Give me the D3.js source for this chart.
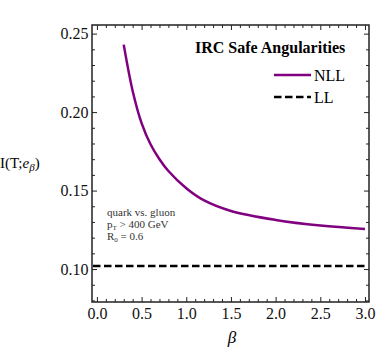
<!DOCTYPE html>
<html>
<head>
<meta charset="utf-8">
<script src="https://cdn.jsdelivr.net/npm/d3@7"></script>
<style>
  body { margin: 0; background: #fff; }
  svg { display: block; font-family: "Liberation Serif", "Times New Roman", serif; }
</style>
</head>
<body>
<svg></svg>
<script>
// data
var betas = [0.3, 0.4, 0.5, 0.6, 0.7, 0.8, 1.0, 1.2, 1.5, 2.0, 2.5, 3.0];
var nll = [0.243, 0.2135, 0.193, 0.1795, 0.170, 0.1625, 0.1515, 0.1437, 0.137, 0.1313, 0.1277, 0.1255];
var llValue = 0.102;
var xTicks = [0.0, 0.5, 1.0, 1.5, 2.0, 2.5, 3.0];
var yTicks = [0.10, 0.15, 0.20, 0.25];
var notes = ["quark vs. gluon", "pT > 400 GeV", "R0 = 0.6"];

var width = 382, height = 350;
var frame = {left: 92, right: 369, top: 25, bottom: 302};

var svg = d3.select("svg")
    .attr("width", width)
    .attr("height", height);

var x = d3.scaleLinear().domain([-0.055, 3.045]).range([frame.left, frame.right]);
var y = d3.scaleLinear().domain([0.079, 0.2555]).range([frame.bottom, frame.top]);

var xMinor = d3.range(0, 3.01, 0.1).filter(function(d) { return Math.abs(d * 2 - Math.round(d * 2)) > 1e-6; });
var yMinor = d3.range(0.08, 0.255, 0.01).filter(function(d) { return Math.abs(d * 20 - Math.round(d * 20)) > 1e-6; });

var tickColor = "#222";

function styleAxis(g) {
  g.select(".domain").remove();
  g.selectAll("line").attr("stroke", tickColor).attr("stroke-width", 1);
  g.selectAll("text").attr("fill", "#111").style("font-size", "16px")
    .style("font-family", "Liberation Serif, serif");
}

// bottom axis with labels
svg.append("g")
  .attr("transform", "translate(0," + frame.bottom + ")")
  .call(d3.axisBottom(x).tickValues(xTicks).tickFormat(d3.format(".1f")).tickSize(-5).tickPadding(5.5))
  .call(styleAxis);
svg.append("g")
  .attr("transform", "translate(0," + frame.bottom + ")")
  .call(d3.axisBottom(x).tickValues(xMinor).tickFormat("").tickSize(-3))
  .call(styleAxis);
// top axis
svg.append("g")
  .attr("transform", "translate(0," + frame.top + ")")
  .call(d3.axisTop(x).tickValues(xTicks).tickFormat("").tickSize(-5))
  .call(styleAxis);
svg.append("g")
  .attr("transform", "translate(0," + frame.top + ")")
  .call(d3.axisTop(x).tickValues(xMinor).tickFormat("").tickSize(-3))
  .call(styleAxis);

// left axis with labels
svg.append("g")
  .attr("transform", "translate(" + frame.left + ",0)")
  .call(d3.axisLeft(y).tickValues(yTicks).tickFormat(d3.format(".2f")).tickSize(-5).tickPadding(3.5))
  .call(styleAxis);
svg.append("g")
  .attr("transform", "translate(" + frame.left + ",0)")
  .call(d3.axisLeft(y).tickValues(yMinor).tickFormat("").tickSize(-3))
  .call(styleAxis);
// right axis
svg.append("g")
  .attr("transform", "translate(" + frame.right + ",0)")
  .call(d3.axisRight(y).tickValues(yTicks).tickFormat("").tickSize(-5))
  .call(styleAxis);
svg.append("g")
  .attr("transform", "translate(" + frame.right + ",0)")
  .call(d3.axisRight(y).tickValues(yMinor).tickFormat("").tickSize(-3))
  .call(styleAxis);

// frame
svg.append("rect")
  .attr("x", frame.left).attr("y", frame.top)
  .attr("width", frame.right - frame.left).attr("height", frame.bottom - frame.top)
  .attr("fill", "none").attr("stroke", tickColor).attr("stroke-width", 1.5);

// LL dashed line
svg.append("line")
  .attr("x1", x.range()[0] + 1).attr("x2", x.range()[1] - 1)
  .attr("y1", y(llValue)).attr("y2", y(llValue))
  .attr("stroke", "#000").attr("stroke-width", 2.5)
  .attr("stroke-dasharray", "7.5,3.5");

// NLL curve
var line = d3.line()
  .x(function(d, i) { return x(betas[i]); })
  .y(function(d) { return y(d); })
  .curve(d3.curveCatmullRom.alpha(0.5));

svg.append("path")
  .datum(nll)
  .attr("d", line)
  .attr("fill", "none")
  .attr("stroke", "#800080")
  .attr("stroke-width", 2.5);

// legend
var legend = svg.append("g");
legend.append("text")
  .attr("x", 195).attr("y", 53)
  .style("font-size", "16px").style("font-weight", "bold")
  .text("IRC Safe Angularities");
legend.append("line")
  .attr("x1", 274).attr("x2", 311).attr("y1", 75).attr("y2", 75)
  .attr("stroke", "#800080").attr("stroke-width", 2.5);
legend.append("text")
  .attr("x", 314).attr("y", 81).style("font-size", "16px").text("NLL");
legend.append("line")
  .attr("x1", 274).attr("x2", 311).attr("y1", 97).attr("y2", 97)
  .attr("stroke", "#000").attr("stroke-width", 2.5)
  .attr("stroke-dasharray", "7.5,3.5");
legend.append("text")
  .attr("x", 314).attr("y", 103).style("font-size", "16px").text("LL");

// annotation
var note = svg.append("g").attr("fill", "#333").style("font-size", "11px");
note.append("text").attr("x", 107).attr("y", 216).text(notes[0]);
var t2 = note.append("text").attr("x", 107).attr("y", 228);
t2.append("tspan").text("p");
t2.append("tspan").attr("dy", 1.5).style("font-size", "7px").text("T");
t2.append("tspan").attr("dy", -1.5).text(" > 400 GeV");
var t3 = note.append("text").attr("x", 107).attr("y", 240);
t3.append("tspan").text("R");
t3.append("tspan").attr("dy", 1.5).style("font-size", "7px").text("0");
t3.append("tspan").attr("dy", -1.5).text(" = 0.6");

// y label
var yl = svg.append("text").attr("x", 0).attr("y", 168).style("font-size", "15px");
yl.append("tspan").text("I(T;");
yl.append("tspan").style("font-style", "italic").text("e");
yl.append("tspan").attr("dy", 3).style("font-style", "italic").style("font-size", "11px").text("β");
yl.append("tspan").attr("dy", -3).text(")");

// x label
svg.append("text")
  .attr("x", 232).attr("y", 343)
  .attr("text-anchor", "middle")
  .style("font-size", "17px").style("font-style", "italic")
  .text("β");
</script>
</body>
</html>
